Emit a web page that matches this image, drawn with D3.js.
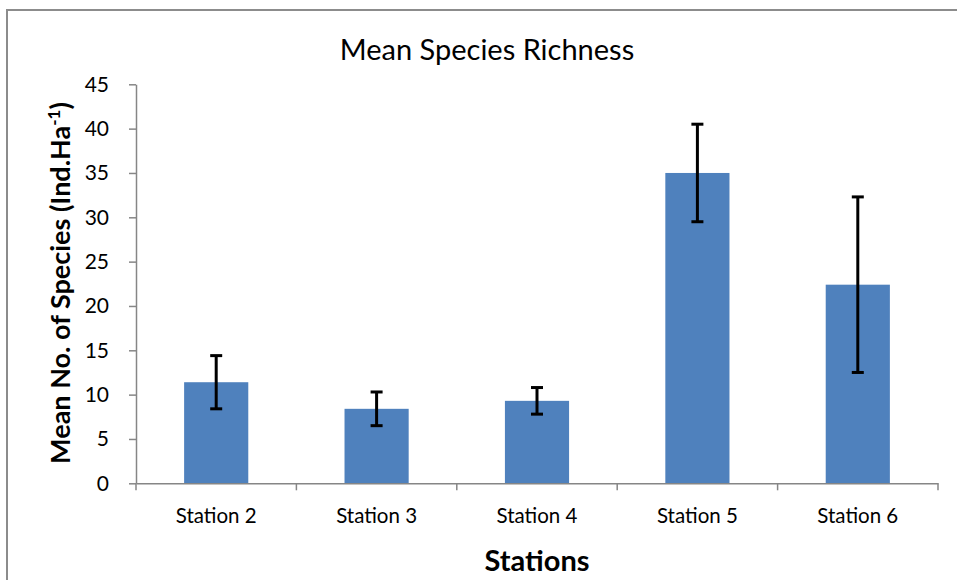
<!DOCTYPE html>
<html><head><meta charset="utf-8">
<script src="https://cdn.jsdelivr.net/npm/d3@7"></script>
<style>
body{margin:0;background:#fff;}
svg{display:block;font-family:Lato, "Open Sans", sans-serif;}
</style></head>
<body>
<svg id="c" width="957" height="580"></svg>
<script>
const categories = ["Station 2","Station 3","Station 4","Station 5","Station 6"];
const means = [11.4, 8.4, 9.3, 35.0, 22.4];
const errors = [3.0, 1.9, 1.5, 5.5, 9.9];
const yTicks = [0,5,10,15,20,25,30,35,40,45];

const svg = d3.select("#c");
// outer frame
svg.append("rect").attr("x",7).attr("y",10).attr("width",960).attr("height",600)
  .attr("fill","none").attr("stroke","#8c8c8c").attr("stroke-width",2);

const pLeft=136, pRight=938, pTop=84.3, pBottom=483.3;
const x = d3.scaleBand().domain(categories).range([pLeft,pRight]).paddingInner(0.6).paddingOuter(0.3);
const y = d3.scaleLinear().domain([0,45]).range([pBottom,pTop]);

// bars
svg.selectAll("rect.bar").data(categories).enter().append("rect")
  .attr("class","bar")
  .attr("x",d=>x(d)).attr("width",x.bandwidth())
  .attr("y",(d,i)=>y(means[i])).attr("height",(d,i)=>y(0)-y(means[i]))
  .attr("fill","#4f81bd");

// error bars
const eb = svg.selectAll("g.err").data(categories).enter().append("g").attr("class","err");
eb.append("line").attr("x1",d=>x(d)+x.bandwidth()/2).attr("x2",d=>x(d)+x.bandwidth()/2)
  .attr("y1",(d,i)=>y(means[i]+errors[i])).attr("y2",(d,i)=>y(means[i]-errors[i]))
  .attr("stroke","#000").attr("stroke-width",3);
eb.append("line").attr("x1",d=>x(d)+x.bandwidth()/2-6).attr("x2",d=>x(d)+x.bandwidth()/2+6)
  .attr("y1",(d,i)=>y(means[i]+errors[i])).attr("y2",(d,i)=>y(means[i]+errors[i]))
  .attr("stroke","#000").attr("stroke-width",3);
eb.append("line").attr("x1",d=>x(d)+x.bandwidth()/2-6).attr("x2",d=>x(d)+x.bandwidth()/2+6)
  .attr("y1",(d,i)=>y(means[i]-errors[i])).attr("y2",(d,i)=>y(means[i]-errors[i]))
  .attr("stroke","#000").attr("stroke-width",3);

// y axis
const yAxis = svg.append("g").attr("transform",`translate(${pLeft},0)`)
  .call(d3.axisLeft(y).tickValues(yTicks).tickSize(7).tickPadding(20).tickSizeOuter(0));
yAxis.select(".domain").attr("stroke","#868686").attr("stroke-width",1.5);
yAxis.selectAll(".tick line").attr("stroke","#868686").attr("stroke-width",1.5);
yAxis.selectAll("text").attr("font-size",21).attr("fill","#000").attr("font-family","Lato, sans-serif");

// x axis
const xAxis = svg.append("g").attr("transform",`translate(0,${pBottom})`)
  .call(d3.axisBottom(x).tickSize(0).tickPadding(25).tickSizeOuter(0));
xAxis.select(".domain").attr("stroke","#868686").attr("stroke-width",1.5);
xAxis.selectAll("text").attr("font-size",20.5).attr("fill","#000").attr("font-family","Lato, sans-serif");
// category boundary ticks
const bounds = d3.range(categories.length+1).map(i=>pLeft + i*(pRight-pLeft)/categories.length);
svg.append("g").selectAll("line").data(bounds).enter().append("line")
  .attr("x1",d=>d).attr("x2",d=>d).attr("y1",pBottom).attr("y2",pBottom+7)
  .attr("stroke","#868686").attr("stroke-width",1.5);

// title
svg.append("text").attr("x",487).attr("y",60).attr("text-anchor","middle")
  .attr("font-size",29).attr("fill","#000").text("Mean Species Richness");

// x title
svg.append("text").attr("x",537).attr("y",571).attr("text-anchor","middle")
  .attr("font-size",29).attr("font-weight","bold").attr("fill","#000").text("Stations");

// y title
const yt = svg.append("text").attr("transform","translate(70,283) rotate(-90)")
  .attr("text-anchor","middle").attr("font-size",27).attr("font-weight","bold").attr("fill","#000");
yt.append("tspan").text("Mean No. of Species (Ind.Ha");
yt.append("tspan").attr("dy",-10).attr("font-size",17).text("-1");
yt.append("tspan").attr("dy",10).text(")");
</script>
</body></html>
